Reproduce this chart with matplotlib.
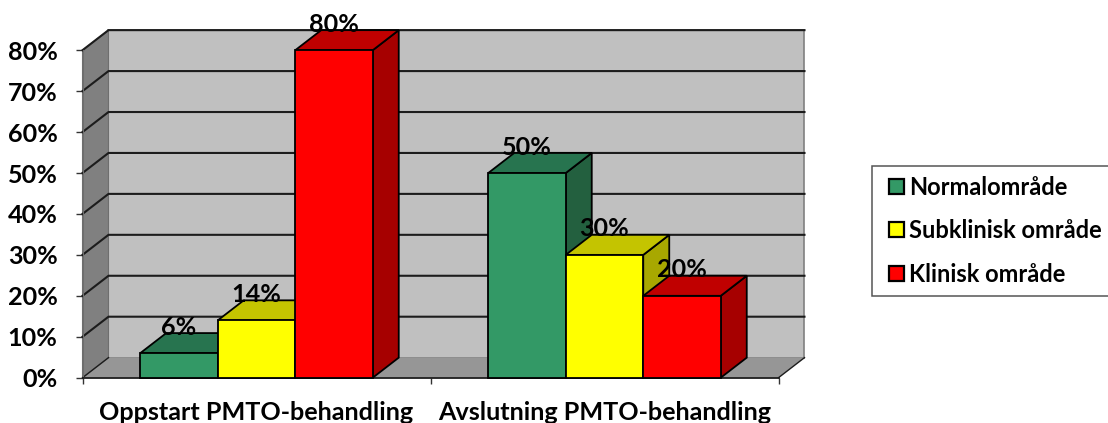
import matplotlib
matplotlib.use('Agg')
import matplotlib.pyplot as plt
from matplotlib.patches import Polygon, Patch, Rectangle

categories = ['Oppstart PMTO-behandling', 'Avslutning PMTO-behandling']
series_names = ['Normalområde', 'Subklinisk område', 'Klinisk område']
normal = [6, 50]
subklinisk = [14, 30]
klinisk = [80, 20]
yticks = [0, 10, 20, 30, 40, 50, 60, 70, 80]

# front, top, side colours per series
colors = [('#339966', '#27744F', '#23603F'),
          ('#FFFF00', '#C4C400', '#A8A800'),
          ('#FF0000', '#C00000', '#A60000')]

plt.rcParams['font.family'] = ['Lato', 'DejaVu Sans']
plt.rcParams['font.weight'] = 'bold'
FS = 18.1
LEG_FS = 17

W, H = 1108, 423
fig = plt.figure(figsize=(W / 100, H / 100), dpi=100)
ax = fig.add_axes([82.5 / W, (H - 377.7) / H, 696 / W, 327.5 / H])
ax.set_xlim(-0.5, 1.5)
ax.set_ylim(0, 80)
ax.patch.set_visible(False)

# oblique depth of the box, in data units
DX = 0.0747
DY = 4.9
BAR_W = 0.2227


def poly(pts, fc, ec='none', lw=0, z=1):
    ax.add_patch(Polygon(pts, closed=True, facecolor=fc, edgecolor=ec, linewidth=lw,
                         zorder=z, clip_on=False, joinstyle='miter'))


x0, x1 = ax.get_xlim()
ymax = ax.get_ylim()[1]

# walls and floor
poly([(x0 + DX, DY), (x1 + DX, DY), (x1 + DX, ymax + DY), (x0 + DX, ymax + DY)],
     '#C0C0C0', '#808080', 1.2)
poly([(x0, 0), (x0 + DX, DY), (x1 + DX, DY), (x1, 0)], '#969696')
poly([(x0, 0), (x0 + DX, DY), (x0 + DX, ymax + DY), (x0, ymax)], '#808080', '#6e6e6e', 0.8)

# gridlines run along the left wall and across the back
for v in yticks[1:]:
    ax.plot([x0, x0 + DX, x1 + DX], [v, v + DY, v + DY], color='#1c1c1c', lw=1.5,
            zorder=2, clip_on=False, solid_joinstyle='miter')
ax.plot([x0, x0 + DX], [0, DY], color='#1c1c1c', lw=1, zorder=2, clip_on=False)
ax.plot([x1, x1 + DX], [0, DY], color='#1c1c1c', lw=1, zorder=2, clip_on=False)

# bars, left to right so that each one covers the depth of the previous
values = [normal, subklinisk, klinisk]
z = 3
for c in range(len(categories)):
    for s, vals in enumerate(values):
        v = vals[c]
        left = c + (s - 1.5) * BAR_W
        right = left + BAR_W
        front, top, side = colors[s]
        poly([(right, 0), (right + DX, DY), (right + DX, v + DY), (right, v)], side, 'black', 1.3, z)
        poly([(left, v), (left + DX, v + DY), (right + DX, v + DY), (right, v)], top, 'black', 1.3, z)
        poly([(left, 0), (right, 0), (right, v), (left, v)], front, 'black', 1.3, z)
        z += 1
        ax.annotate(f'{v}%', (left + BAR_W / 2, v), xytext=(0, 18.7), textcoords='offset points',
                    ha='center', va='center', fontsize=FS, fontweight='bold', color='black',
                    zorder=20, annotation_clip=False)

# axes
ax.set_yticks(yticks)
ax.set_yticklabels([f'{v}%' for v in yticks], fontsize=FS, fontweight='bold')
ax.tick_params(axis='y', length=5, width=1, pad=13, color='#333333')
ax.set_xticks([0, 1])
ax.set_xticklabels(categories, fontsize=FS, fontweight='bold')
ax.set_xticks([-0.5, 0.5, 1.5], minor=True)
ax.tick_params(axis='x', which='major', length=0, pad=17)
ax.tick_params(axis='x', which='minor', length=4.5, width=1, color='#333333')
for name in ['top', 'right']:
    ax.spines[name].set_visible(False)
ax.spines['left'].set_color('#6e6e6e')
ax.spines['bottom'].set_color('#1c1c1c')
ax.spines['bottom'].set_linewidth(1.3)
ax.spines['bottom'].set_zorder(2.5)

# legend box runs off the right edge of the figure
fig.add_artist(Rectangle((871.5 / W, 1 - 296 / H), 250 / W, 130 / H, transform=fig.transFigure,
                         facecolor='white', edgecolor='#555555', linewidth=1.1))
handles = [Patch(facecolor=col[0], edgecolor='black', linewidth=1.6) for col in colors]
leg = fig.legend(handles, series_names, loc='upper left', bbox_to_anchor=(889 / W, 1 - 175.5 / H),
                 bbox_transform=fig.transFigure, borderaxespad=0, fontsize=LEG_FS, frameon=False,
                 handlelength=0.62, handleheight=0.62, handletextpad=0.24, labelspacing=0.87,
                 borderpad=0)

fig.savefig('out.png', dpi=100)
